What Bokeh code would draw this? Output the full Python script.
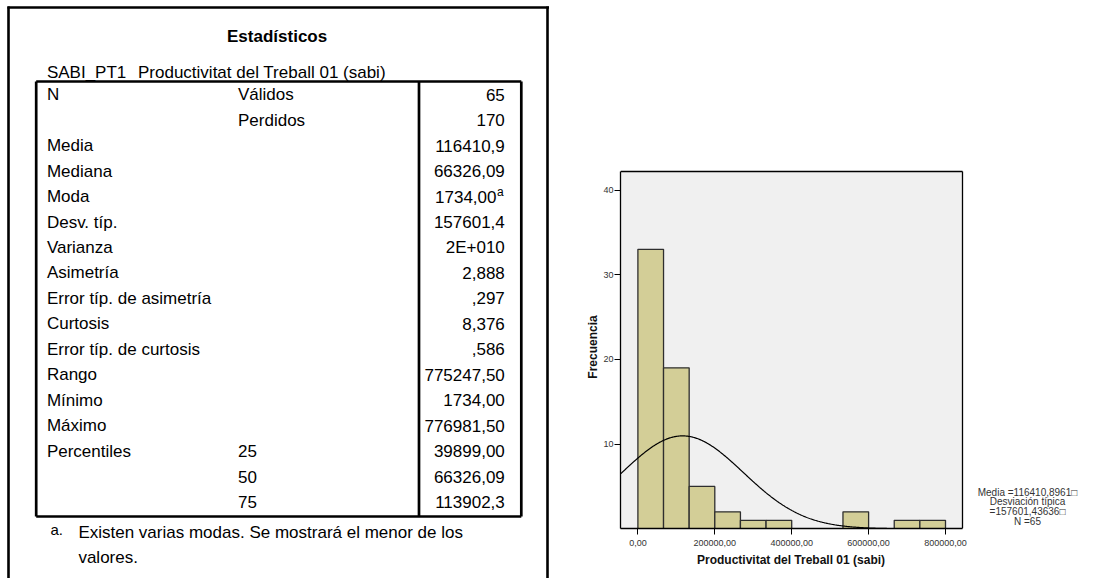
import numpy as np
from bokeh.plotting import figure
from bokeh.layouts import row, column
from bokeh.models import Range1d, FixedTicker, ColumnDataSource, Title
from bokeh.core.properties import value
from bokeh.embed import file_html
from bokeh.resources import INLINE

FONT = "Liberation Sans"

# ---------------- table data ----------------
table_title = "Estadísticos"
table_var_name = "SABI_PT1"
table_var_label = "Productivitat del Treball 01 (sabi)"
row_labels = ["N", "", "Media", "Mediana", "Moda", "Desv. típ.", "Varianza",
              "Asimetría", "Error típ. de asimetría", "Curtosis",
              "Error típ. de curtosis", "Rango", "Mínimo", "Máximo",
              "Percentiles", "", ""]
row_sublabels = ["Válidos", "Perdidos", "", "", "", "", "", "", "", "", "",
                 "", "", "", "25", "50", "75"]
row_values = ["65", "170", "116410,9", "66326,09", "1734,00", "157601,4",
              "2E+010", "2,888", ",297", "8,376", ",586", "775247,50",
              "1734,00", "776981,50", "39899,00", "66326,09", "113902,3"]
row_marks = ["", "", "", "", "a", "", "", "", "", "", "", "", "", "", "", "", ""]
footnote_mark = "a."
footnote_lines = ["Existen varias modas. Se mostrará el menor de los", "valores."]

# ---------------- histogram data ----------------
bin_width = 200000 / 3
bin_counts = [33, 19, 5, 2, 1, 1, 0, 0, 2, 0, 1, 1]
x_ticks = [0, 200000, 400000, 600000, 800000]
x_tick_labels = ["0,00", "200000,00", "400000,00", "600000,00", "800000,00"]
y_ticks = [0, 10, 20, 30, 40]
stat_mean = 116410.8961
stat_sd = 157601.43636
stat_n = 65
x_label = "Productivitat del Treball 01 (sabi)"
y_label = "Frecuencia"
stats_text = ["Media =116410,8961\u25a1", "Desviación típica",
              "=157601,43636\u25a1", "N =65"]

W, H = 1109, 578

# ---------------- table figure (pixel layout) ----------------
TW = 549
t = figure(width=TW, height=H, x_range=Range1d(0, TW),
           y_range=Range1d(H, 0), output_backend="svg",
           toolbar_location=None, min_border=0,
           x_axis_type=None, y_axis_type=None)
t.grid.visible = False
t.outline_line_color = None

# panel lines
t.segment(x0=[7, 8, 547], y0=[7, 6, 6], x1=[TW, 8, 547],
          y1=[7, H, H], line_color="black", line_width=2.6)
# table box
L, R, T, B, D = 35.7, 520.8, 81.0, 516.0, 418.5
t.segment(x0=[L, L, R, L, D], y0=[T, B, T, T, T], x1=[R, R, R, L, D],
          y1=[T, B, B, B, B], line_color="black", line_width=2.7)

row_y0, row_step = 94.3, 25.45
ys = [row_y0 + row_step * i for i in range(len(row_labels))]

t.text(x=[276.6], y=[35.7], text=[table_title], text_font=value(FONT),
       text_font_size="17px", text_font_style="bold", text_align="center",
       text_baseline="middle", text_color="black")
t.text(x=[46.4, 137.5], y=[71.7, 71.7], text=[table_var_name, table_var_label],
       text_font=value(FONT), text_font_size="17px", text_align="left",
       text_baseline="middle", text_color="black")

src = ColumnDataSource(dict(y=ys, lab=row_labels, sub=row_sublabels,
                            val=row_values, mark=row_marks,
                            vx=[496.0 if m else 504.3 for m in row_marks]))
common = dict(text_font=value(FONT), text_font_size="17px",
              text_baseline="middle", text_color="black", source=src)
t.text(x=46.4, y="y", text="lab", text_align="left", **common)
t.text(x=237.5, y="y", text="sub", text_align="left", **common)
t.text(x="vx", y="y", text="val", text_align="right", **common)
t.text(x=496.5, y=[y - 5 for y in ys], text=row_marks, text_font=value(FONT),
       text_font_size="12px", text_baseline="middle", text_align="left",
       text_color="black")

t.text(x=[50], y=[528.5], text=[footnote_mark], text_font=value(FONT),
       text_font_size="15px", text_baseline="middle", text_align="left",
       text_color="black")
t.text(x=[77.9, 77.9], y=[531.7, 556.7], text=footnote_lines,
       text_font=value(FONT), text_font_size="17px", text_baseline="middle",
       text_align="left", text_color="black")

# ---------------- top bar of right panel ----------------
RW = W - TW
BH = 9
bar = figure(width=RW, height=BH, x_range=Range1d(TW, W), y_range=Range1d(BH, 0),
             output_backend="svg", toolbar_location=None, min_border=0,
             x_axis_type=None, y_axis_type=None)
bar.grid.visible = False
bar.outline_line_color = None
bar.quad(left=[TW], right=[W], top=[5.8], bottom=[8.4], fill_color="black",
         line_color=None)

# ---------------- histogram (frame extends to the right edge) ----------------
units_per_px = 200000 / 76.9          # x units per pixel
y_per_px = 1 / 8.47                    # y units per pixel
x0_px, y0_px = 637.4, 528.3
FL, FR, FT, FB = 620, W, 165, 528      # frame in picture pixels
BOX_R, BOX_T = 962, 171                # plot box right / top edges (pixels)

x_start = (FL - x0_px) * units_per_px
x_far = (FR - x0_px) * units_per_px
x_box = (BOX_R - x0_px) * units_per_px
y_start = (y0_px - FB) * y_per_px
y_end = (y0_px - FT) * y_per_px
y_box = (y0_px - BOX_T) * y_per_px

h = figure(width=RW, height=H - BH, x_range=Range1d(x_start, x_far),
           y_range=Range1d(y_start, y_end), output_backend="svg",
           toolbar_location=None, min_border_left=FL - TW, min_border_right=0,
           min_border_top=FT - BH, min_border_bottom=H - FB)
h.grid.visible = False
h.background_fill_color = "white"
h.border_fill_color = "white"
h.outline_line_color = None

# plot area background and box
h.quad(left=[x_start], right=[x_box], bottom=[y_start], top=[y_box],
       fill_color="#F0F0F0", line_color=None)

lefts = [i * bin_width for i, c in enumerate(bin_counts) if c > 0]
rights = [(i + 1) * bin_width for i, c in enumerate(bin_counts) if c > 0]
tops = [c for c in bin_counts if c > 0]
h.quad(left=lefts, right=rights, top=tops, bottom=0, fill_color="#D3CE97",
       line_color="#2e2e2e", line_width=1.3)

xs = np.linspace(x_start, x_box, 500)
ys_curve = stat_n * bin_width / (stat_sd * np.sqrt(2 * np.pi)) * \
    np.exp(-0.5 * ((xs - stat_mean) / stat_sd) ** 2)
h.line(xs, ys_curve, line_color="black", line_width=1.2)

h.segment(x0=[x_start, x_box], y0=[y_box, y_start], x1=[x_box, x_box],
          y1=[y_box, y_box], line_color="black", line_width=1.3)

for ax in (h.xaxis[0], h.yaxis[0]):
    ax.axis_line_color = "black"
    ax.axis_line_width = 1.3
    ax.major_tick_in = 0
    ax.major_tick_out = 6
    ax.major_tick_line_color = "black"
    ax.minor_tick_out = 0
    ax.minor_tick_in = 0
    ax.major_label_text_font = FONT
    ax.major_label_text_font_size = "9px"
    ax.major_label_text_color = "#333333"
    ax.axis_label_text_font = FONT
    ax.axis_label_text_font_size = "12px"
    ax.axis_label_text_font_style = "bold"
    ax.axis_label_text_color = "#111111"

h.xaxis.ticker = FixedTicker(ticks=x_ticks)
h.xaxis.bounds = (x_start, x_box)
h.xaxis.major_label_overrides = {tk: lb for tk, lb in zip(x_ticks, x_tick_labels)}
h.xaxis.major_label_standoff = 5

h.yaxis.ticker = FixedTicker(ticks=y_ticks)
h.yaxis.bounds = (y_start, y_box)
h.yaxis.major_label_standoff = 1
h.yaxis.axis_label = y_label
h.yaxis.axis_label_standoff = 0

# x-axis title, centred under the plot box (the frame runs on to the right)
label_px_width = 189
h.add_layout(Title(text=x_label, align="left",
                   offset=(FL + BOX_R) / 2 - FL - label_px_width / 2,
                   standoff=4, text_font=FONT, text_font_size="12px",
                   text_font_style="bold", text_color="#111111"), "below")

# statistics text to the right of the plot box
stat_px_y = [491.7, 501.3, 511.0, 520.8]
h.text(x=[(1027 - x0_px) * units_per_px] * 4,
       y=[(y0_px - py) * y_per_px for py in stat_px_y], text=stats_text,
       text_font=value(FONT), text_font_size="10px", text_color="#333333",
       text_align="center", text_baseline="middle")

layout = row(t, column(bar, h))
open("out.html", "w").write(file_html(layout, INLINE))
